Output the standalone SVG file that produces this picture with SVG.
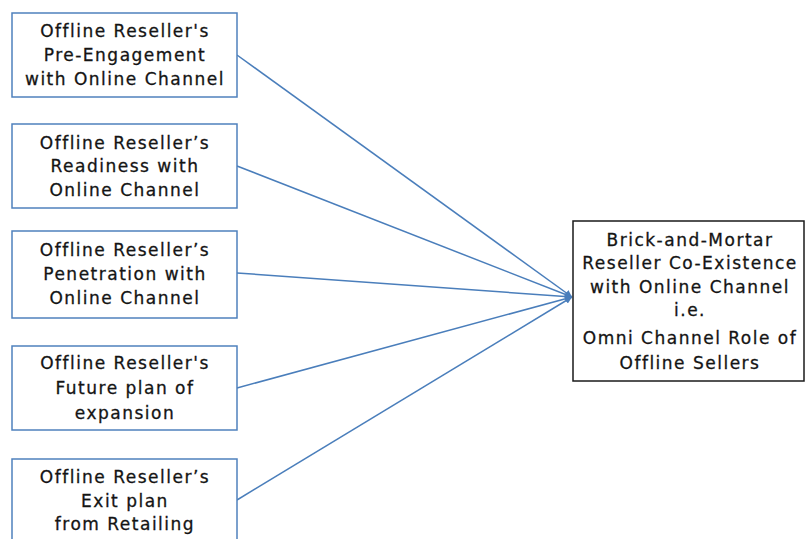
<svg xmlns="http://www.w3.org/2000/svg" width="806" height="539" viewBox="0 0 806 539">
  <style>
    .box { fill: #ffffff; stroke: #4f81bd; stroke-width: 1.5; }
    .target { fill: #ffffff; stroke: #1a1a1a; stroke-width: 1.5; }
    .lbl { font-family: "DejaVu Sans", "Liberation Sans", sans-serif; font-size: 17px; letter-spacing: 1.5px; fill: #141414; stroke: #141414; stroke-width: 0.3; text-anchor: middle; }
    .link { stroke: #4a7ebb; stroke-width: 1.5; fill: none; marker-end: url(#arrow); }
  </style>
  <defs>
    <marker id="arrow" viewBox="0 0 10 10" refX="10" refY="5" markerWidth="7" markerHeight="7" markerUnits="userSpaceOnUse" orient="auto">
      <path d="M0,0 L10,5 L0,10 z" fill="#4a7ebb"/>
    </marker>
  </defs>
  <rect width="806" height="539" fill="#ffffff"/>

  <g id="connectors">
    <line class="link" x1="237" y1="55" x2="572" y2="297"/>
    <line class="link" x1="237" y1="166" x2="572" y2="297"/>
    <line class="link" x1="237" y1="273" x2="572" y2="297"/>
    <line class="link" x1="237" y1="388" x2="572" y2="297"/>
    <line class="link" x1="237" y1="500" x2="572" y2="297"/>
  </g>

  <g id="pre-engagement">
    <rect class="box" x="12" y="13" width="225" height="84"/>
    <text class="lbl" x="125" y="37">Offline Reseller's</text>
    <text class="lbl" x="125" y="61">Pre-Engagement</text>
    <text class="lbl" x="125" y="85">with Online Channel</text>
  </g>

  <g id="readiness">
    <rect class="box" x="12" y="124" width="225" height="84"/>
    <text class="lbl" x="125" y="149">Offline Reseller’s</text>
    <text class="lbl" x="125" y="172">Readiness with</text>
    <text class="lbl" x="125" y="196">Online Channel</text>
  </g>

  <g id="penetration">
    <rect class="box" x="12" y="231" width="225" height="87"/>
    <text class="lbl" x="125" y="256">Offline Reseller’s</text>
    <text class="lbl" x="125" y="280">Penetration with</text>
    <text class="lbl" x="125" y="304">Online Channel</text>
  </g>

  <g id="future-plan">
    <rect class="box" x="12" y="346" width="225" height="84"/>
    <text class="lbl" x="125" y="369">Offline Reseller's</text>
    <text class="lbl" x="125" y="394">Future plan of</text>
    <text class="lbl" x="125" y="419">expansion</text>
  </g>

  <g id="exit-plan">
    <rect class="box" x="12" y="459" width="225" height="90"/>
    <text class="lbl" x="125" y="483">Offline Reseller’s</text>
    <text class="lbl" x="125" y="507">Exit plan</text>
    <text class="lbl" x="125" y="530">from Retailing</text>
  </g>

  <g id="co-existence">
    <rect class="target" x="573" y="221" width="231" height="160"/>
    <text class="lbl" x="690" y="246">Brick-and-Mortar</text>
    <text class="lbl" x="690" y="269">Reseller Co-Existence</text>
    <text class="lbl" x="690" y="293">with Online Channel</text>
    <text class="lbl" x="690" y="316">i.e.</text>
    <text class="lbl" x="690" y="344">Omni Channel Role of</text>
    <text class="lbl" x="690" y="369">Offline Sellers</text>
  </g>
</svg>
